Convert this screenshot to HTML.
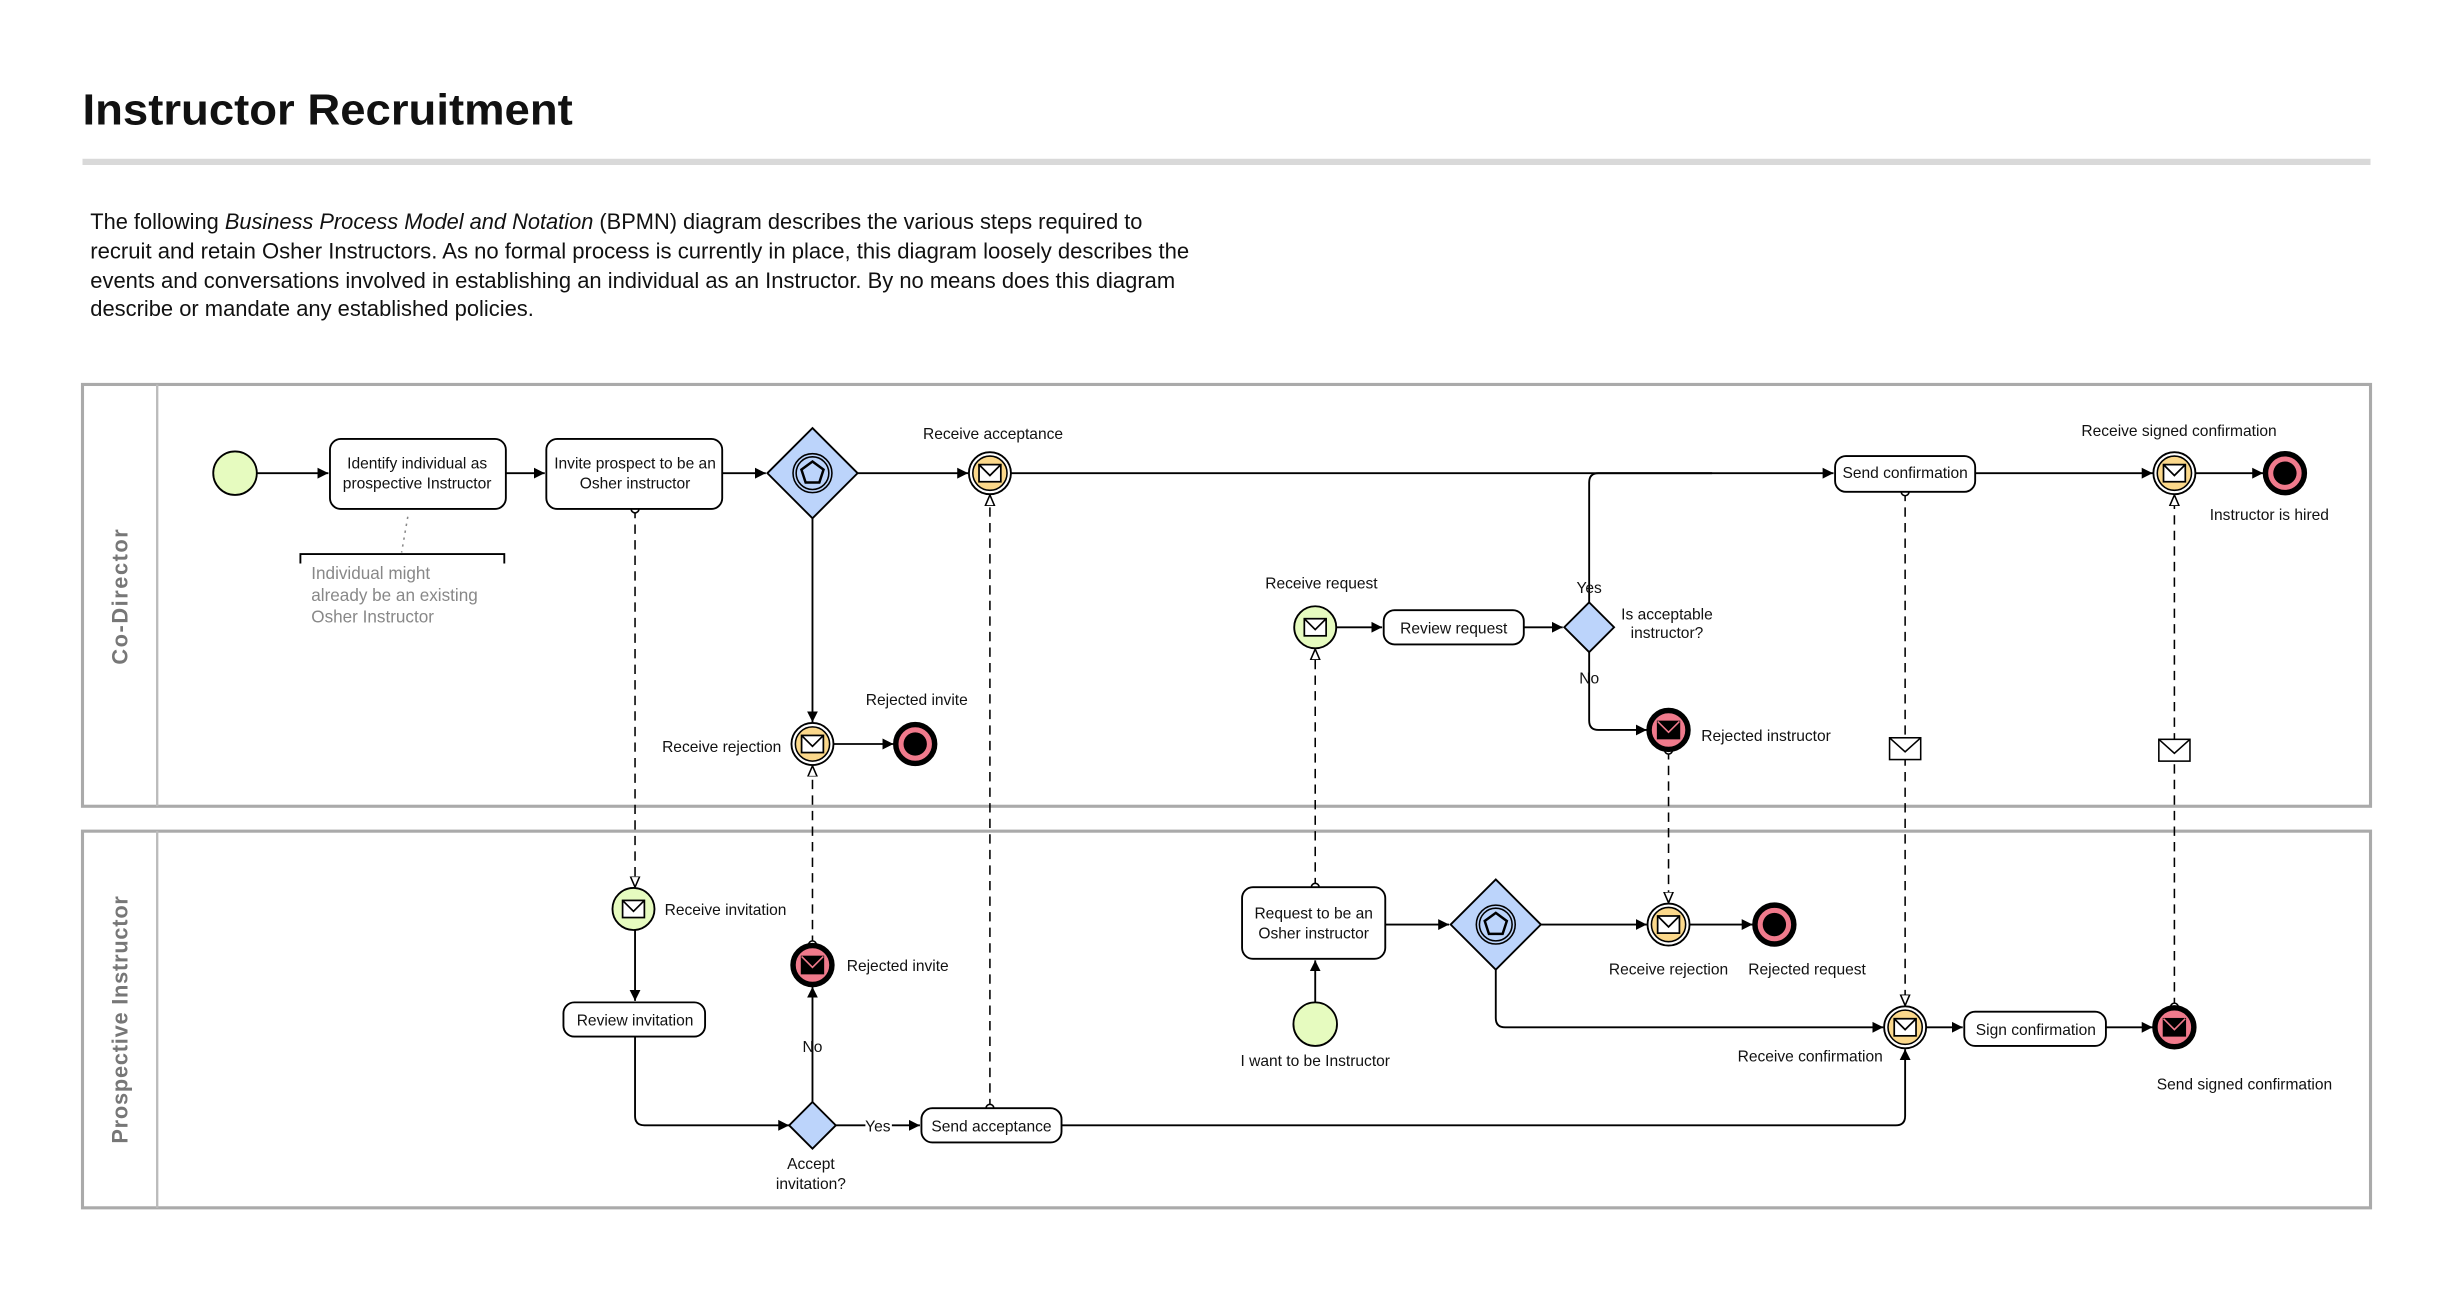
<!DOCTYPE html>
<html><head><meta charset="utf-8"><style>
html,body{margin:0;padding:0;background:#fff;}
svg{display:block;}
text{font-family:"Liberation Sans",sans-serif;fill:#111;}
.l{font-size:10px;}
.t{font-size:10px;text-anchor:middle;}
.g{font-size:11px;fill:#888;}
</style></head><body>
<svg width="2439" height="1309" viewBox="0 0 1567 841" preserveAspectRatio="none" xmlns="http://www.w3.org/2000/svg">
<defs>
<marker id="a" markerWidth="8" markerHeight="8" refX="7" refY="4" orient="auto" markerUnits="userSpaceOnUse"><path d="M0,0.5 L7,4 L0,7.5 z" fill="#000"/></marker>
<marker id="o" markerWidth="9" markerHeight="9" refX="7" refY="4" orient="auto" markerUnits="userSpaceOnUse"><path d="M0,1 L7,4 L0,7 z" fill="#fff" stroke="#000" stroke-width="1"/></marker>
<marker id="c" markerWidth="7" markerHeight="7" refX="3.5" refY="3.5" orient="auto" markerUnits="userSpaceOnUse"><circle cx="3.5" cy="3.5" r="2.5" fill="#fff" stroke="#000" stroke-width="1"/></marker>
<g id="env"><rect x="-7" y="-5.5" width="14" height="11" fill="#fff" stroke="#000" stroke-width="1.1"/><path d="M-7,-5.5 L0,1.5 L7,-5.5" fill="none" stroke="#000" stroke-width="1.1"/></g>
<g id="envb"><rect x="-7" y="-5.5" width="14" height="11" fill="#000" stroke="#000" stroke-width="1"/><path d="M-7,-5.5 L0,1.5 L7,-5.5" fill="none" stroke="#f07a8c" stroke-width="1"/></g>
<g id="ice"><circle r="13.5" fill="#fff" stroke="#000" stroke-width="1.2"/><circle r="11" fill="#fbd88b" stroke="#000" stroke-width="1"/><use href="#env"/></g>
<g id="sme"><circle r="13.5" fill="#e6fbbf" stroke="#000" stroke-width="1.2"/><use href="#env"/></g>
<g id="ee"><circle r="12.5" fill="#f07a8c" stroke="#000" stroke-width="3.5"/><circle r="7.5" fill="#000"/></g>
<g id="eme"><circle r="12.5" fill="#f07a8c" stroke="#000" stroke-width="3.5"/><use href="#envb"/></g>
<g id="gw"><path d="M0,-29 L29,0 L0,29 L-29,0 z" fill="#bcd4fb" stroke="#000" stroke-width="1.2"/><circle r="12.5" fill="none" stroke="#000"/><circle r="10.5" fill="none" stroke="#000"/><path d="M0,-7.5 L7.1,-2.3 L4.4,6 L-4.4,6 L-7.1,-2.3 z" fill="none" stroke="#000" stroke-width="1.6"/></g>
</defs>

<text x="53" y="80" style="font-size:28px;font-weight:bold" textLength="315" lengthAdjust="spacingAndGlyphs">Instructor Recruitment</text>
<rect x="53" y="102" width="1470" height="4" fill="#d9d9d9"/>
<g style="font-size:14px">
<text x="58" y="147" textLength="676" lengthAdjust="spacingAndGlyphs">The following <tspan font-style="italic">Business Process Model and Notation</tspan> (BPMN) diagram describes the various steps required to</text>
<text x="58" y="166" textLength="706" lengthAdjust="spacingAndGlyphs">recruit and retain Osher Instructors. As no formal process is currently in place, this diagram loosely describes the</text>
<text x="58" y="185" textLength="697" lengthAdjust="spacingAndGlyphs">events and conversations involved in establishing an individual as an Instructor. By no means does this diagram</text>
<text x="58" y="203" textLength="285" lengthAdjust="spacingAndGlyphs">describe or mandate any established policies.</text>
</g>

<rect x="53" y="247" width="1470" height="271" fill="none" stroke="#aaa" stroke-width="2"/>
<line x1="101" y1="247" x2="101" y2="518" stroke="#bbb" stroke-width="1.5"/>
<rect x="53" y="534" width="1470" height="242" fill="none" stroke="#aaa" stroke-width="2"/>
<line x1="101" y1="534" x2="101" y2="776" stroke="#bbb" stroke-width="1.5"/>
<text transform="translate(82,383) rotate(-90)" style="font-size:14px;font-weight:bold;fill:#777;text-anchor:middle;letter-spacing:1px">Co-Director</text>
<text transform="translate(82,655) rotate(-90)" style="font-size:14px;font-weight:bold;fill:#777;text-anchor:middle;letter-spacing:0.5px">Prospective Instructor</text>

<g fill="none" stroke="#000" stroke-width="1.2">
<line x1="165" y1="304" x2="211" y2="304" marker-end="url(#a)"/>
<line x1="325" y1="304" x2="350" y2="304" marker-end="url(#a)"/>
<line x1="464" y1="304" x2="492" y2="304" marker-end="url(#a)"/>
<line x1="551" y1="304" x2="622" y2="304" marker-end="url(#a)"/>
<line x1="649" y1="304" x2="1178" y2="304" marker-end="url(#a)"/>
<line x1="1269" y1="304" x2="1383" y2="304" marker-end="url(#a)"/>
<line x1="1410" y1="304" x2="1454" y2="304" marker-end="url(#a)"/>
<line x1="522" y1="333" x2="522" y2="464" marker-end="url(#a)"/>
<line x1="535" y1="478" x2="574" y2="478" marker-end="url(#a)"/>
<line x1="858" y1="403" x2="888" y2="403" marker-end="url(#a)"/>
<line x1="979" y1="403" x2="1004" y2="403" marker-end="url(#a)"/>
<path d="M1021,387 L1021,310 Q1021,304 1027,304 L1100,304"/>
<path d="M1021,419 L1021,463 Q1021,469 1027,469 L1058,469" marker-end="url(#a)"/>
<line x1="408" y1="597" x2="408" y2="643" marker-end="url(#a)"/>
<path d="M408,666 L408,717 Q408,723 414,723 L507,723" marker-end="url(#a)"/>
<line x1="522" y1="708" x2="522" y2="634" marker-end="url(#a)"/>
<path d="M537,723 L556,723 M573,723 L591,723" marker-end="url(#a)"/>
<path d="M682,723 L1218,723 Q1224,723 1224,717 L1224,674" marker-end="url(#a)"/>
<line x1="845" y1="645" x2="845" y2="617" marker-end="url(#a)"/>
<line x1="890" y1="594" x2="931" y2="594" marker-end="url(#a)"/>
<line x1="990" y1="594" x2="1058" y2="594" marker-end="url(#a)"/>
<line x1="1085" y1="594" x2="1126" y2="594" marker-end="url(#a)"/>
<path d="M961,623 L961,654 Q961,660 967,660 L1210,660" marker-end="url(#a)"/>
<line x1="1237" y1="660" x2="1261" y2="660" marker-end="url(#a)"/>
<line x1="1353" y1="660" x2="1383" y2="660" marker-end="url(#a)"/>
</g>
<g fill="none" stroke="#000" stroke-width="1" stroke-dasharray="6,4">
<line x1="408" y1="327" x2="408" y2="570" marker-start="url(#c)" marker-end="url(#o)"/>
<line x1="522" y1="607" x2="522" y2="492" marker-start="url(#c)" marker-end="url(#o)"/>
<line x1="636" y1="712" x2="636" y2="318" marker-start="url(#c)" marker-end="url(#o)"/>
<line x1="845" y1="570" x2="845" y2="417" marker-start="url(#c)" marker-end="url(#o)"/>
<line x1="1072" y1="482" x2="1072" y2="580" marker-start="url(#c)" marker-end="url(#o)"/>
<line x1="1224" y1="316" x2="1224" y2="646" marker-start="url(#c)" marker-end="url(#o)"/>
<line x1="1397" y1="647" x2="1397" y2="318" marker-start="url(#c)" marker-end="url(#o)"/>
<path d="M262,332 L258,355" stroke="#888" stroke-dasharray="1.5,3"/>
</g>
<g transform="translate(1224,481)"><rect x="-10" y="-7" width="20" height="14" fill="#fff" stroke="#000"/><path d="M-10,-7 L0,2 L10,-7" fill="none" stroke="#000"/></g>
<g transform="translate(1397,482)"><rect x="-10" y="-7" width="20" height="14" fill="#fff" stroke="#000"/><path d="M-10,-7 L0,2 L10,-7" fill="none" stroke="#000"/></g>

<path d="M193,362 L193,356 L324,356 L324,362" fill="none" stroke="#000" stroke-width="1.2"/>
<text class="g" x="200" y="372">Individual might</text>
<text class="g" x="200" y="386">already be an existing</text>
<text class="g" x="200" y="400">Osher Instructor</text>

<g fill="#fff" stroke="#000" stroke-width="1.2">
<rect x="212" y="282" width="113" height="45" rx="7"/>
<rect x="351" y="282" width="113" height="45" rx="7"/>
<rect x="1179" y="293" width="90" height="23" rx="7"/>
<rect x="889" y="392" width="90" height="22" rx="7"/>
<rect x="362" y="644" width="91" height="22" rx="7"/>
<rect x="592" y="712" width="90" height="22" rx="7"/>
<rect x="798" y="570" width="92" height="46" rx="7"/>
<rect x="1262" y="650" width="91" height="22" rx="7"/>
</g>
<text class="t" x="268" y="301">Identify individual as</text>
<text class="t" x="268" y="314">prospective Instructor</text>
<text class="t" x="408" y="301">Invite prospect to be an</text>
<text class="t" x="408" y="314">Osher instructor</text>
<text class="t" x="1224" y="307">Send confirmation</text>
<text class="t" x="934" y="407">Review request</text>
<text class="t" x="408" y="659">Review invitation</text>
<text class="t" x="637" y="727">Send acceptance</text>
<text class="t" x="844" y="590">Request to be an</text>
<text class="t" x="844" y="603">Osher instructor</text>
<text class="t" x="1308" y="665">Sign confirmation</text>

<circle cx="151" cy="304" r="14" fill="#e6fbbf" stroke="#000" stroke-width="1.2"/>
<use href="#gw" x="522" y="304"/>
<use href="#ice" x="636" y="304"/>
<use href="#ice" x="1397" y="304"/>
<use href="#ee" x="1468" y="304"/>
<use href="#ice" x="522" y="478"/>
<use href="#ee" x="588" y="478"/>
<use href="#sme" x="845" y="403"/>
<path d="M1021,387 L1037,403 L1021,419 L1005,403 z" fill="#bcd4fb" stroke="#000" stroke-width="1.2"/>
<use href="#eme" x="1072" y="469"/>
<use href="#sme" x="407" y="584"/>
<use href="#eme" x="522" y="620"/>
<path d="M522,708 L537,723 L522,738 L507,723 z" fill="#bcd4fb" stroke="#000" stroke-width="1.2"/>
<circle cx="845" cy="658" r="14" fill="#e6fbbf" stroke="#000" stroke-width="1.2"/>
<use href="#gw" x="961" y="594"/>
<use href="#ice" x="1072" y="594"/>
<use href="#ee" x="1140" y="594"/>
<use href="#ice" x="1224" y="660"/>
<use href="#eme" x="1397" y="660"/>

<text class="t" x="638" y="282">Receive acceptance</text>
<text class="t" x="1400" y="280">Receive signed confirmation</text>
<text class="t" x="1458" y="334">Instructor is hired</text>
<text class="l" x="502" y="483" text-anchor="end">Receive rejection</text>
<text class="t" x="589" y="453">Rejected invite</text>
<text class="t" x="849" y="378">Receive request</text>
<text class="t" x="1021" y="381">Yes</text>
<text class="t" x="1021" y="439">No</text>
<text class="t" x="1071" y="398">Is acceptable</text>
<text class="t" x="1071" y="410">instructor?</text>
<text class="l" x="1093" y="476">Rejected instructor</text>
<text class="l" x="427" y="588">Receive invitation</text>
<text class="l" x="544" y="624">Rejected invite</text>
<text class="t" x="522" y="676">No</text>
<text class="t" x="564" y="727">Yes</text>
<text class="t" x="521" y="751">Accept</text>
<text class="t" x="521" y="764">invitation?</text>
<text class="t" x="845" y="685">I want to be Instructor</text>
<text class="t" x="1072" y="626">Receive rejection</text>
<text class="t" x="1161" y="626">Rejected request</text>
<text class="t" x="1163" y="682">Receive confirmation</text>
<text class="t" x="1442" y="700">Send signed confirmation</text>
</svg>
</body></html>
